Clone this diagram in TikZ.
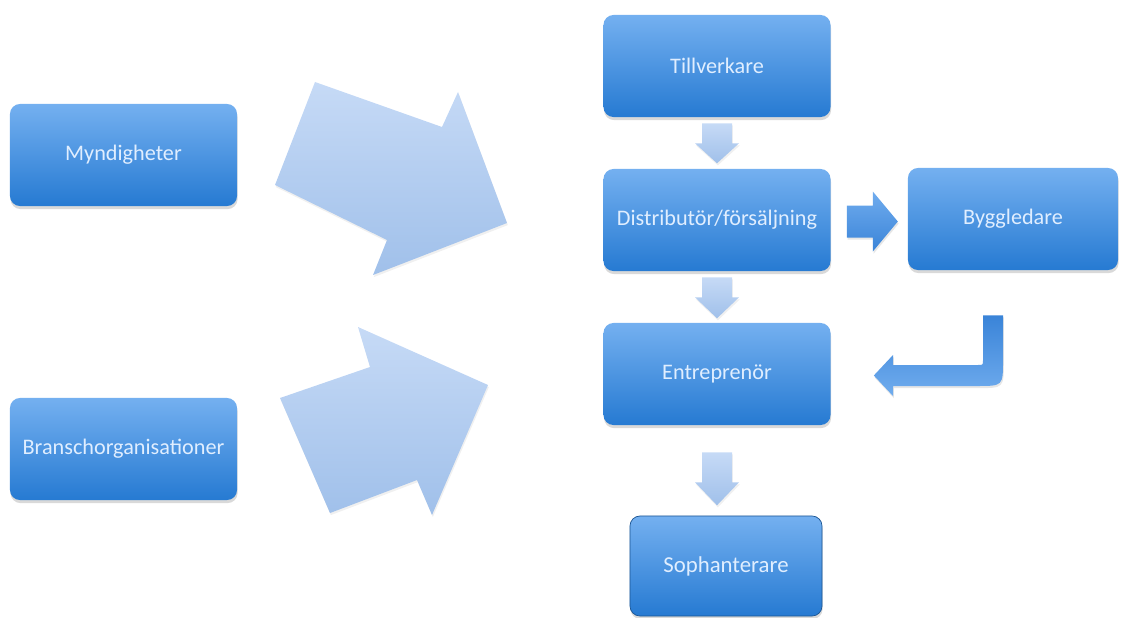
\documentclass[tikz,border=0pt]{standalone}
\usepackage{fontspec}
\setmainfont{Carlito}
\usetikzlibrary{positioning, calc, shadows}
\definecolor{boxtop}{RGB}{116,176,240}
\definecolor{boxbot}{RGB}{38,122,210}
\definecolor{boxtext}{RGB}{224,238,255}
\definecolor{paletop}{RGB}{198,218,246}
\definecolor{palebot}{RGB}{160,192,234}
\definecolor{bluelight}{RGB}{112,172,238}
\definecolor{bluedark}{RGB}{58,132,216}

\tikzset{
  block/.style={rounded corners=0.25cm, top color=boxtop, bottom color=boxbot, text=boxtext,
    minimum width=5.675cm, minimum height=2.55cm, font=\fontsize{15.8}{19}\selectfont,
    drop shadow={shadow xshift=0.4pt, shadow yshift=-2.2pt, opacity=0.3}},
  palearrow/.style={top color=paletop, bottom color=palebot, draw=none,
    drop shadow={shadow xshift=0.6pt, shadow yshift=-1.5pt, opacity=0.12}},
  bluearrow/.style={top color=bluelight, bottom color=bluedark, draw=none,
    drop shadow={shadow xshift=0.6pt, shadow yshift=-1.5pt, opacity=0.2}}
}

\begin{document}
\begin{tikzpicture}[x=0.025cm, y=-0.025cm]
\useasboundingbox (0,0) rectangle (1128,617);

% boxes
\node[block] (myndigheter) at (123.5,155) {Myndigheter};
\node[block] (bransch) at (123.5,449) {Branschorganisationer};
\node[block] (tillverkare) at (717,66) {Tillverkare};
\node[block] (distributor) at (717,220) {Distributör/försäljning};
\node[block] (entreprenor) at (717,374) {Entreprenör};
\node[block, minimum width=5.25cm] (byggledare) at (1013,219) {Byggledare};
\node[block, minimum width=4.8cm, minimum height=2.5cm, draw=boxbot!70!black, line width=0.5pt,
  font=\fontsize{16.2}{19}\selectfont] (sophanterare) at (726,566) {Sophanterare};

% big arrows on the left
\draw[palearrow] (315,82) -- (442,127) -- (458,92) -- (507,223) -- (373,275) -- (387,240) -- (275,185) -- cycle;
\draw[palearrow] (280,398) -- (370,367) -- (358,327) -- (488,385) -- (432,515) -- (417,480) -- (330,513) -- cycle;

% small arrows down the column
\foreach \from/\to/\gap/\shaft/\head in {tillverkare/distributor/6/20/20, distributor/entreprenor/6/20/21, entreprenor/sophanterare/27/30/23}
  \draw[palearrow] ($(\from.south)+(0,\gap)$) ++(-15,0) -- ++(30,0) -- ++(0,\shaft) -- ++(7,0)
    -- ++(-22,\head) -- ++(-22,-\head) -- ++(7,0) -- cycle;

% arrow to Byggledare
\draw[bluearrow] ($(distributor.east)+(16,2)$) ++(0,-16.5) -- ++(26,0) -- ++(0,-14) -- ++(25,30)
  -- ++(-25,30) -- ++(0,-14) -- ++(-26,0) -- cycle;

% bent arrow back to Entreprenor
\draw[bluearrow, top color=bluedark, bottom color=bluelight]
  ($(byggledare.south)+(-30,45)$) -- ++(20,0) -- (1003,360) .. controls (1003,386) .. (977,386)
  -- (893,386) -- (893,396) -- ($(entreprenor.east)+(43,1.5)$) -- (893,355) -- (893,365)
  -- (978,365) .. controls (983,365) .. (983,360) -- cycle;
\end{tikzpicture}
\end{document}
